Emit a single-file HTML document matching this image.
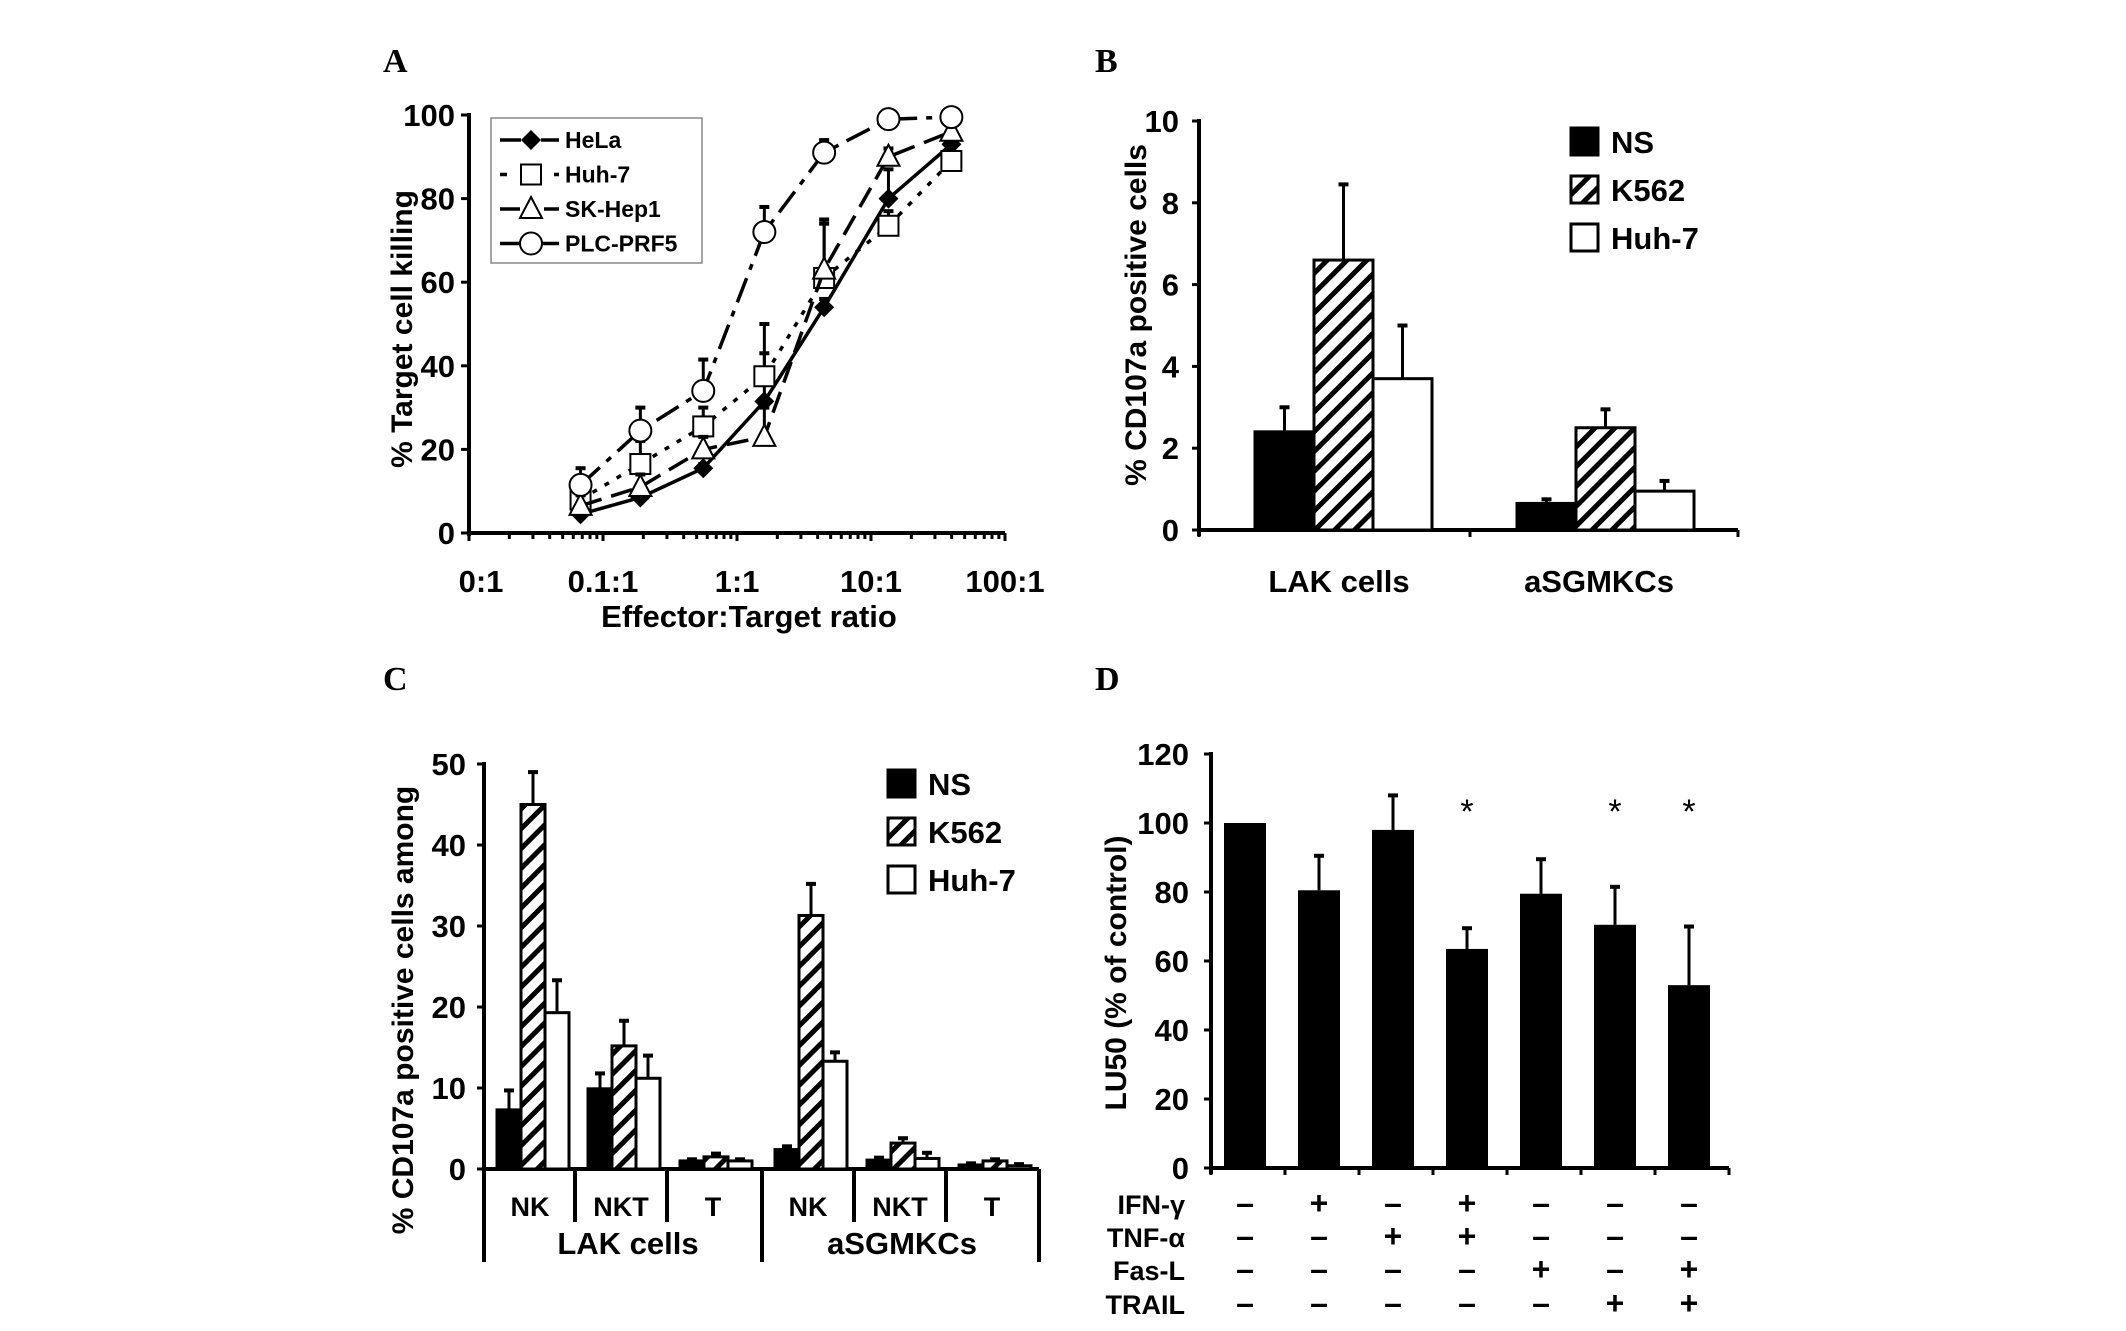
<!DOCTYPE html>
<html><head><meta charset="utf-8"><style>
html,body{margin:0;padding:0;background:#fff;}
svg{display:block;font-family:"Liberation Sans",Arial,sans-serif;font-weight:bold;}
</style></head><body>
<svg id="fig" width="2126" height="1331" viewBox="0 0 2126 1331" xmlns="http://www.w3.org/2000/svg">
<defs>
<pattern id="hatch" patternUnits="userSpaceOnUse" width="14" height="14" patternTransform="rotate(45)">
<rect width="14" height="14" fill="#fff"/><rect x="0" y="0" width="5" height="14" fill="#000"/>
</pattern>
</defs>
<g font-family="Liberation Serif,serif" font-weight="bold" font-size="34">
<text x="383" y="72">A</text>
<text x="1095" y="72">B</text>
<text x="383" y="690">C</text>
<text x="1095" y="690">D</text>
</g>
<g id="pa"></g>
<g id="pb"></g>
<g id="pc"></g>
<g id="pd"></g>
</svg>
<script>
// ---- Panel A data ----
const aRatios=[0.068,0.19,0.56,1.6,4.47,13.5,39.8];
const aTickLabels=["0:1","0.1:1","1:1","10:1","100:1"];
const aYTicks=[0,20,40,60,80,100];
const aSeriesNames=["HeLa","Huh-7","SK-Hep1","PLC-PRF5"];
const aHeLa=[4.5,8.5,15.5,31.5,54,80,93];
const aHeLaErr=[5.5,9.5,16.5,43,56,87,95];
const aHuh=[8,16.5,25.5,37.5,61,73.5,89];
const aHuhErr=[12,22,30,50,74,77,90];
const aSK=[6.5,11,20,23,63,90,96];
const aSKErr=[9,14,23,30,75,92,98];
const aPLC=[11.5,24.5,34,72,91,99,99.5];
const aPLCErr=[15.5,30,41.5,78,94,100,100];
// ---- Panel B data ----
const bGroups=["LAK cells","aSGMKCs"];
const bSeriesNames=["NS","K562","Huh-7"];
const bNS=[2.4,0.65],bNSErr=[3.0,0.75];
const bK562=[6.6,2.5],bK562Err=[8.45,2.95];
const bHuh=[3.7,0.95],bHuhErr=[5.0,1.2];
const bYTicks=[0,2,4,6,8,10];
// ---- Panel C data ----
const cSub=["NK","NKT","T","NK","NKT","T"];
const cGroups=["LAK cells","aSGMKCs"];
const cNS=[7.3,9.9,1.0,2.4,1.1,0.5],cNSErr=[9.7,11.8,1.2,2.8,1.4,0.7];
const cK562=[45,15.2,1.5,31.3,3.2,1.0],cK562Err=[49,18.3,1.9,35.2,3.8,1.2];
const cHuh=[19.3,11.2,1.0,13.3,1.3,0.4],cHuhErr=[23.3,14,1.2,14.4,2,0.6];
const cYTicks=[0,10,20,30,40,50];
// ---- Panel D data ----
const dVals=[100,80.5,98,63.5,79.5,70.5,53];
const dErr=[100,90.5,108,69.5,89.5,81.5,70];
const dStar=[false,false,false,true,false,true,true];
const dRows=["IFN-γ","TNF-α","Fas-L","TRAIL"];
const dIFN=["-","+","-","+","-","-","-"];
const dTNF=["-","-","+","+","-","-","-"];
const dFas=["-","-","-","-","+","-","+"];
const dTRAIL=["-","-","-","-","-","+","+"];
const dYTicks=[0,20,40,60,80,100,120];

const NS="http://www.w3.org/2000/svg";
function mk(parent,tag,attrs,txt){const e=document.createElementNS(NS,tag);for(const k in attrs)e.setAttribute(k,attrs[k]);if(txt!==undefined)e.textContent=txt;parent.appendChild(e);return e;}

// ===== Panel A =====
(function(){
const g=document.getElementById('pa');
const X0=469,Y0=533,YS=4.18,DEC=134,XEND=X0+4*DEC;
const x=r=>X0+DEC*(Math.log10(r)+2);
const y=v=>Y0-v*YS;
let e;
e=mk(g,'line',{x1:X0,y1:y(100)-2,x2:X0,y2:Y0+3,stroke:'#000','stroke-width':4});

e=mk(g,'line',{x1:X0,y1:Y0,x2:XEND,y2:Y0,stroke:'#000','stroke-width':4});

aYTicks.forEach(t=>{
 mk(g,'line',{x1:X0-8,y1:y(t),x2:X0,y2:y(t),stroke:'#000','stroke-width':3});
 e=mk(g,'text',{x:X0-14,y:y(t)+11,'text-anchor':'end','font-size':31},t);
 
});
for(let d=0;d<4;d++){for(let m=1;m<=10;m++){const xx=X0+DEC*(d+Math.log10(m));
 mk(g,'line',{x1:xx,y1:Y0,x2:xx,y2:Y0+(m==1||m==10?8:6),stroke:'#000','stroke-width':3});}}
aTickLabels.forEach((t,i)=>{
 e=mk(g,'text',{x:X0+DEC*i+(i==0?12:0),y:592,'text-anchor':'middle','font-size':31},t);
 
});
e=mk(g,'text',{x:749,y:627,'text-anchor':'middle','font-size':31},'Effector:Target ratio');

e=mk(g,'text',{x:0,y:0,'text-anchor':'middle','font-size':30,transform:'translate(412,329) rotate(-90)'},'% Target cell killing');

const series=[[aHeLa,aHeLaErr,'none','diamond'],[aHuh,aHuhErr,'5,9','square'],[aSK,aSKErr,'22,10','triangle'],[aPLC,aPLCErr,'26,9,6,9','circle']];
function marker(par,type,cx,cy){
 if(type==='diamond')return mk(par,'path',{d:`M${cx} ${cy-10}L${cx+10} ${cy}L${cx} ${cy+10}L${cx-10} ${cy}Z`,fill:'#000'});
 if(type==='square')return mk(par,'rect',{x:cx-10,y:cy-10,width:20,height:20,fill:'#fff',stroke:'#000','stroke-width':2});
 if(type==='triangle')return mk(par,'path',{d:`M${cx} ${cy-12}L${cx+11} ${cy+9}L${cx-11} ${cy+9}Z`,fill:'#fff',stroke:'#000','stroke-width':2});
 return mk(par,'circle',{cx:cx,cy:cy,r:11,fill:'#fff',stroke:'#000','stroke-width':2});
}
series.forEach((s,si)=>{
 const [vals,errs,dash,type]=s;
 const sg=mk(g,'g',{});
 
 vals.forEach((v,i)=>{if(errs[i]>v){mk(sg,'line',{x1:x(aRatios[i]),y1:y(v),x2:x(aRatios[i]),y2:y(errs[i]),stroke:'#000','stroke-width':3});
  mk(sg,'line',{x1:x(aRatios[i])-5,y1:y(errs[i]),x2:x(aRatios[i])+5,y2:y(errs[i]),stroke:'#000','stroke-width':4});}});
 const pts=vals.map((v,i)=>x(aRatios[i])+','+y(v)).join(' ');
 e=mk(sg,'polyline',{points:pts,fill:'none',stroke:'#000','stroke-width':3.5,'stroke-dasharray':dash});
 
 vals.forEach((v,i)=>{e=marker(sg,type,x(aRatios[i]),y(v));
  });
});
const lg=mk(g,'g',{});

mk(lg,'rect',{x:491,y:118,width:211,height:145,fill:'#fff',stroke:'#888','stroke-width':1.5});
series.forEach((s,i)=>{const ly=140+i*34.5;
 mk(lg,'line',{x1:500,y1:ly,x2:559,y2:ly,stroke:'#000','stroke-width':3.5,'stroke-dasharray':s[2]==='none'?'none':(i==1?'7,20':(i==2?'20,24':'20,20'))});
 mk(lg,'rect',{x:521,y:ly-12,width:20,height:24,fill:'#fff'});
 marker(lg,s[3],531,ly);
 e=mk(lg,'text',{x:565,y:ly+8,'font-size':23},aSeriesNames[i]);
 
});
})();

// ===== Panel B =====
(function(){
const g=document.getElementById('pb');
const X0=1199,XEND=1738,Y0=530,YS=40.9;
const y=v=>Y0-v*YS;let e;
e=mk(g,'line',{x1:X0,y1:y(10)-2,x2:X0,y2:Y0+6,stroke:'#000','stroke-width':4});

e=mk(g,'line',{x1:X0,y1:Y0,x2:XEND,y2:Y0,stroke:'#000','stroke-width':4});

[X0,1470,XEND].forEach(xx=>mk(g,'line',{x1:xx,y1:Y0,x2:xx,y2:Y0+7,stroke:'#000','stroke-width':3}));
bYTicks.forEach(t=>{mk(g,'line',{x1:X0-7,y1:y(t),x2:X0,y2:y(t),stroke:'#000','stroke-width':3});
 e=mk(g,'text',{x:X0-20,y:y(t)+11,'text-anchor':'end','font-size':31},t);
 });
e=mk(g,'text',{x:0,y:0,'text-anchor':'middle','font-size':30,transform:'translate(1146,315) rotate(-90)'},'% CD107a positive cells');

const starts=[1255,1517],bw=59;
const ser=[[bNS,bNSErr,'#000'],[bK562,bK562Err,'url(#hatch)'],[bHuh,bHuhErr,'#fff']];
bGroups.forEach((gname,gi)=>{
 ser.forEach((s,si)=>{const bx=starts[gi]+si*bw;
  mk(g,'line',{x1:bx+bw/2,y1:y(s[0][gi]),x2:bx+bw/2,y2:y(s[1][gi]),stroke:'#000','stroke-width':3});
  mk(g,'line',{x1:bx+bw/2-5,y1:y(s[1][gi]),x2:bx+bw/2+5,y2:y(s[1][gi]),stroke:'#000','stroke-width':4});
  e=mk(g,'rect',{x:bx,y:y(s[0][gi]),width:bw,height:Y0-y(s[0][gi]),fill:s[2],stroke:'#000','stroke-width':3});
  
 });
 e=mk(g,'text',{x:[1339,1599][gi],y:592,'text-anchor':'middle','font-size':31},gname);
 
});
bSeriesNames.forEach((n,i)=>{const ly=128+i*48;
 e=mk(g,'rect',{x:1571,y:ly,width:27,height:27,fill:ser[i][2],stroke:'#000','stroke-width':3});
 
 e=mk(g,'text',{x:1611,y:ly+25,'font-size':31},n);
 });
})();

// ===== Panel C =====
(function(){
const g=document.getElementById('pc');
const X0=484,XEND=1039,Y0=1169,YS=8.1;
const y=v=>Y0-v*YS;let e;
const lefts=[484,575,667,762,854,946],divs=[575,667,854,946];
e=mk(g,'line',{x1:X0,y1:y(50)-2,x2:X0,y2:1262,stroke:'#000','stroke-width':4});

e=mk(g,'line',{x1:X0,y1:Y0,x2:XEND,y2:Y0,stroke:'#000','stroke-width':4});

[762,XEND].forEach(xx=>mk(g,'line',{x1:xx,y1:Y0,x2:xx,y2:1262,stroke:'#000','stroke-width':4}));
divs.forEach(xx=>mk(g,'line',{x1:xx,y1:Y0,x2:xx,y2:1222,stroke:'#000','stroke-width':4}));
cYTicks.forEach(t=>{mk(g,'line',{x1:X0-7,y1:y(t),x2:X0,y2:y(t),stroke:'#000','stroke-width':3});
 e=mk(g,'text',{x:X0-18,y:y(t)+11,'text-anchor':'end','font-size':31},t);
 });
e=mk(g,'text',{x:0,y:0,'text-anchor':'middle','font-size':30,transform:'translate(413,1010) rotate(-90)'},'% CD107a positive cells among');

const ser=[[cNS,cNSErr,'#000','ns'],[cK562,cK562Err,'url(#hatch)','k562'],[cHuh,cHuhErr,'#fff','huh-7']];
const bw=24;
cSub.forEach((sub,ci)=>{
 ser.forEach((s,si)=>{const bx=lefts[ci]+13+si*bw;
  if(s[1][ci]>s[0][ci]){mk(g,'line',{x1:bx+bw/2,y1:y(s[0][ci]),x2:bx+bw/2,y2:y(s[1][ci]),stroke:'#000','stroke-width':3});
  mk(g,'line',{x1:bx+bw/2-5,y1:y(s[1][ci]),x2:bx+bw/2+5,y2:y(s[1][ci]),stroke:'#000','stroke-width':4});}
  e=mk(g,'rect',{x:bx,y:y(s[0][ci]),width:bw,height:Y0-y(s[0][ci]),fill:s[2],stroke:'#000','stroke-width':3});
  
 });
 e=mk(g,'text',{x:lefts[ci]+46,y:1216,'text-anchor':'middle','font-size':27},sub);
 
});
cGroups.forEach((n,i)=>{e=mk(g,'text',{x:[628,902][i],y:1254,'text-anchor':'middle','font-size':31},n);
 });
bSeriesNames.forEach((n,i)=>{const ly=770+i*48;
 e=mk(g,'rect',{x:888,y:ly,width:27,height:27,fill:ser[i][2],stroke:'#000','stroke-width':3});
 
 e=mk(g,'text',{x:928,y:ly+25,'font-size':31},n);
 });
})();

// ===== Panel D =====
(function(){
const g=document.getElementById('pd');
const X0=1211,Y0=1168,YS=3.45,SP=74,bw=42;
const XE=X0+7*SP;
const y=v=>Y0-v*YS;let e;
e=mk(g,'line',{x1:X0,y1:y(120)-2,x2:X0,y2:Y0+6,stroke:'#000','stroke-width':4});

e=mk(g,'line',{x1:X0,y1:Y0,x2:XE,y2:Y0,stroke:'#000','stroke-width':4});

for(let i=0;i<=7;i++)mk(g,'line',{x1:X0+i*SP,y1:Y0,x2:X0+i*SP,y2:Y0+7,stroke:'#000','stroke-width':3});
dYTicks.forEach(t=>{mk(g,'line',{x1:X0-7,y1:y(t),x2:X0,y2:y(t),stroke:'#000','stroke-width':3});
 e=mk(g,'text',{x:X0-22,y:y(t)+11,'text-anchor':'end','font-size':31},t);
 });
e=mk(g,'text',{x:0,y:0,'text-anchor':'middle','font-size':30,transform:'translate(1126,973) rotate(-90)'},'LU50 (% of control)');

const rows=[dIFN,dTNF,dFas,dTRAIL],rowY=[1214,1247,1280,1314];
dVals.forEach((v,i)=>{const cx=X0+SP*(i+0.5)-3;
 if(dErr[i]>v){mk(g,'line',{x1:cx,y1:y(v),x2:cx,y2:y(dErr[i]),stroke:'#000','stroke-width':3});
  mk(g,'line',{x1:cx-5,y1:y(dErr[i]),x2:cx+5,y2:y(dErr[i]),stroke:'#000','stroke-width':4});}
 e=mk(g,'rect',{x:cx-bw/2,y:y(v),width:bw,height:Y0-y(v),fill:'#000'});
 
 if(dStar[i]){e=mk(g,'text',{x:cx,y:y(104)+14,'text-anchor':'middle','font-size':34,'font-weight':'normal'},'*');
  }
 rows.forEach((r,ri)=>{e=mk(g,'text',{x:cx,y:rowY[ri],'text-anchor':'middle','font-size':32},r[i]==='-'?'–':'+');
  });
});
dRows.forEach((n,ri)=>{e=mk(g,'text',{x:1185,y:rowY[ri],'text-anchor':'end','font-size':27},n);
 });
})();
</script>
</body></html>
